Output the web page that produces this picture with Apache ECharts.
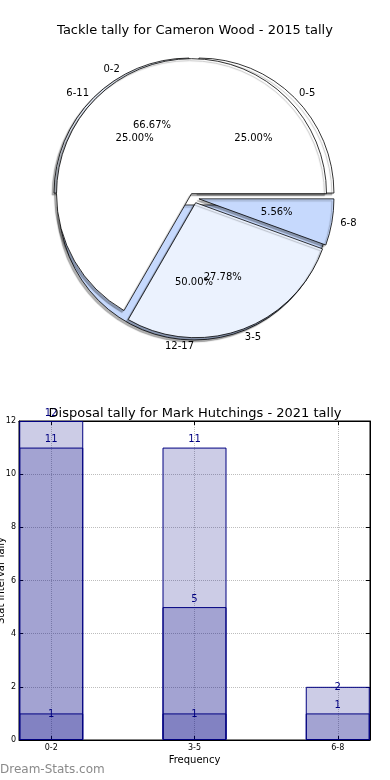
<!DOCTYPE html>
<html><head><meta charset="utf-8">
<script src="https://cdn.jsdelivr.net/npm/echarts@6/dist/echarts.min.js"></script>
<style>html,body{margin:0;padding:0;background:#fff}#c{width:390px;height:780px}</style>
</head><body><div id="c"></div>
<script>
// ---- data ----
const pieTitle = 'Tackle tally for Cameron Wood - 2015 tally';
const pie1Labels = ['0-2', '3-5', '6-8'];
const pie1Values = [12, 5, 1];
const pie2Labels = ['0-5', '6-11', '12-17'];
const pie2Values = [1, 1, 2];

const barTitle = 'Disposal tally for Mark Hutchings - 2021 tally';
const barCategories = ['0-2', '3-5', '6-8'];
const seriesA = [12, 11, 2];
const seriesB = [11, 5, 1];
const seriesC = [1, 1, null];
const yTicks = [0, 2, 4, 6, 8, 10, 12];
const xAxisName = 'Frequency';
const yAxisName = 'Stat Interval Tally';
const watermark = 'Dream-Stats.com';

// ---- styles ----
const FONT = 'DejaVu Sans';
const pieColors = ['#ffffff', '#ebf2fe', '#c6d9fd'];
const PIE_CENTER = [194, 198];
const PIE_R = 135;
const labelOnLine = { A: [2], B: [], C: [0, 1] };

const sum = arr => arr.reduce((a, b) => a + b, 0);

const pieShape = (labels, values, z, offset) => ({
  type: 'pie', z: z, center: PIE_CENTER, radius: PIE_R,
  startAngle: 0, clockwise: false, silent: true, animation: false,
  selectedMode: 'multiple', selectedOffset: offset,
  avoidLabelOverlap: false,
  label: { show: false }, labelLine: { show: false },
  emphasis: { disabled: true },
  itemStyle: { borderColor: '#000', borderWidth: 0.8,
    shadowBlur: 1, shadowColor: 'rgba(0,0,0,0.3)', shadowOffsetX: -2, shadowOffsetY: 2 },
  data: values.map((v, i) => ({ name: labels[i], value: v, selected: true,
    itemStyle: { color: pieColors[i] } }))
});
const piePct = (labels, values) => {
  const total = sum(values);
  return {
    type: 'pie', z: 10, center: PIE_CENTER, radius: [PIE_R * 0.2, PIE_R],
    startAngle: 0, clockwise: false, silent: true, animation: false,
    avoidLabelOverlap: false, emphasis: { disabled: true },
    labelLayout: { hideOverlap: false },
    itemStyle: { color: 'rgba(0,0,0,0)', borderWidth: 0 },
    label: { show: true, position: 'inside', fontSize: 10, color: '#000', fontFamily: FONT,
      formatter: p => (p.value / total * 100).toFixed(2) + '%' },
    labelLine: { show: false },
    data: values.map((v, i) => ({ name: labels[i], value: v }))
  };
};
const pieNames = (labels, values) => ({
  type: 'pie', z: 10, center: PIE_CENTER, radius: PIE_R,
  startAngle: 0, clockwise: false, silent: true, animation: false,
  avoidLabelOverlap: false, emphasis: { disabled: true },
  labelLayout: { hideOverlap: false },
  itemStyle: { color: 'rgba(0,0,0,0)', borderWidth: 0 },
  label: { show: true, position: 'outside', fontSize: 10, color: '#000', fontFamily: FONT,
    distanceToLabelLine: 0, alignTo: 'none', formatter: '{b}' },
  labelLine: { show: false, length: PIE_R * 0.1, length2: 0 },
  data: values.map((v, i) => ({ name: labels[i], value: v }))
});

const barSeries = (vals, key) => ({
  type: 'bar', xAxisIndex: 0, yAxisIndex: 0, barWidth: 64, barGap: '-100%',
  animation: false, silent: true,
  labelLayout: { hideOverlap: false },
  itemStyle: { color: 'rgba(0,0,128,0.2)', borderColor: '#000080', borderWidth: 1 },
  label: { show: true, position: 'top', distance: 3, color: '#000080', fontSize: 10,
    fontFamily: FONT, formatter: p => p.value[1] },
  data: vals.map((v, i) => v == null ? null : (labelOnLine[key].indexOf(i) >= 0
    ? { value: [i, v], label: { distance: -6 } } : { value: [i, v] }))
});

const xTickVals = barCategories.map((c, i) => i);
const axisCommon = {
  type: 'value', min: -0.225, max: 2.225,
  axisLine: { show: true, onZero: false, lineStyle: { color: '#000', width: 1 } },
  axisTick: { show: true, inside: true, length: 4, customValues: xTickVals, lineStyle: { color: '#000' } }
};
const yCommon = {
  type: 'value', min: yTicks[0], max: yTicks[yTicks.length - 1], interval: yTicks[1] - yTicks[0],
  axisLine: { show: true, onZero: false, lineStyle: { color: '#000' } },
  axisTick: { show: true, inside: true, length: 4, lineStyle: { color: '#000' } }
};
const gridLine = { show: true, lineStyle: { type: 'dotted', color: '#bdbdbd', width: 1 } };

const option = {
  backgroundColor: '#fff',
  textStyle: { fontFamily: FONT },
  title: [
    { text: pieTitle, left: 190, textAlign: 'center', top: 19, textStyle: { fontSize: 13, fontWeight: 'normal', color: '#000', fontFamily: FONT } },
    { text: barTitle, left: 190, textAlign: 'center', top: 402, textStyle: { fontSize: 13, fontWeight: 'normal', color: '#000', fontFamily: FONT } }
  ],
  grid: { left: 19, right: 20, top: 421, bottom: 40, containLabel: false, outerBoundsMode: 'none',
    show: true, borderColor: '#000', borderWidth: 1, backgroundColor: 'transparent' },
  xAxis: [
    Object.assign({}, axisCommon, {
      position: 'bottom', name: xAxisName, nameLocation: 'middle', nameGap: 15,
      nameMoveOverlap: false,
      nameTextStyle: { fontSize: 10, color: '#000', fontFamily: FONT },
      axisLabel: { customValues: xTickVals, fontSize: 8, color: '#000', margin: 4, formatter: v => barCategories[v] },
      splitLine: gridLine
    }),
    Object.assign({}, axisCommon, {
      position: 'top', axisLabel: { show: false }, splitLine: { show: false }
    })
  ],
  yAxis: [
    Object.assign({}, yCommon, {
      position: 'left', name: yAxisName, nameLocation: 'middle', nameGap: 13, nameRotate: 90,
      nameMoveOverlap: false,
      nameTextStyle: { fontSize: 10, color: '#000', fontFamily: FONT },
      axisLabel: { fontSize: 8, color: '#000', margin: 3 },
      splitLine: gridLine
    }),
    Object.assign({}, yCommon, {
      position: 'right', axisLabel: { show: false }, splitLine: { show: false }
    })
  ],
  graphic: [
    { type: 'text', left: 0, top: 764, style: { text: watermark, fontSize: 12, fill: '#8a8a8a', fontFamily: FONT } }
  ],
  series: [
    pieShape(pie2Labels, pie2Values, 1, 7),
    pieShape(pie1Labels, pie1Values, 2, 5),
    piePct(pie1Labels, pie1Values),
    piePct(pie2Labels, pie2Values),
    pieNames(pie1Labels, pie1Values),
    pieNames(pie2Labels, pie2Values),
    barSeries(seriesA, 'A'),
    barSeries(seriesB, 'B'),
    barSeries(seriesC, 'C')
  ]
};
const chart = echarts.init(document.getElementById('c'), null, { renderer: 'canvas' });
chart.setOption(option);
</script></body></html>
